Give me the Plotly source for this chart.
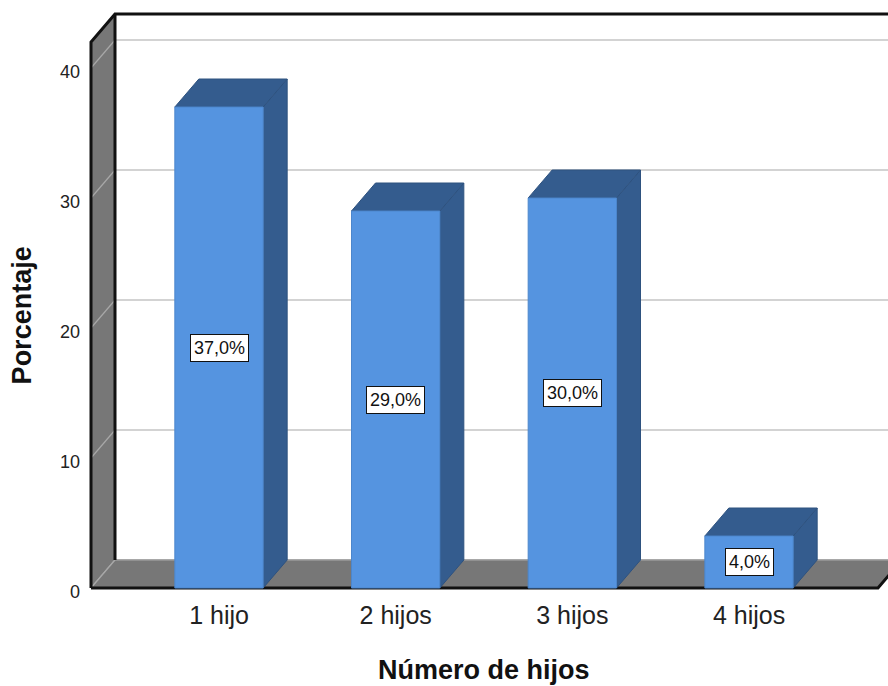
import plotly.graph_objects as go

# Data: percentage of respondents by number of children
categories = ["1 hijo", "2 hijos", "3 hijos", "4 hijos"]
percentages = [37.0, 29.0, 30.0, 4.0]
y_ticks = [0, 10, 20, 30, 40]

# Pseudo-3D geometry (in axis units)
BAR_W = 0.5          # bar front width in category units
DX = 0.1358          # depth offset along x
DY = 2.154           # depth offset along y
WALL_X = -0.7245     # front edge of the left wall
FLOOR_END = 3.73     # front-right end of the floor
Y_TOP = 42.0         # top of the walls (front)
X_RANGE = [-0.7415, 3.7867]
Y_RANGE = [-0.3077, 44.385]

FRONT = "#5594E0"
DARK = "#345C8E"
WALL = "#777777"
GRID_BACK = "#c4c4c4"
GRID_SIDE = "#a8a8a8"
FONT = "Arial, Liberation Sans, sans-serif"

fig = go.Figure()


def poly(xs, ys, fill, line_color=None, width=0):
    fig.add_trace(go.Scatter(
        x=xs + [xs[0]], y=ys + [ys[0]], mode="lines", fill="toself",
        fillcolor=fill, line=dict(color=line_color or fill, width=width),
        hoverinfo="skip", showlegend=False))


def line(xs, ys, color, width):
    fig.add_trace(go.Scatter(
        x=xs, y=ys, mode="lines", line=dict(color=color, width=width),
        hoverinfo="skip", showlegend=False))


# Left wall
poly([WALL_X, WALL_X, WALL_X + DX, WALL_X + DX],
     [0, Y_TOP, Y_TOP + DY, DY], WALL)

# Gridlines on back wall and left wall
for v in y_ticks:
    line([WALL_X + DX, X_RANGE[1] + 0.1], [v + DY, v + DY], GRID_BACK, 1.5)
    line([WALL_X, WALL_X + DX], [v, v + DY], GRID_SIDE, 1.2)

# Floor
poly([WALL_X, FLOOR_END, FLOOR_END + DX, WALL_X + DX],
     [0, 0, DY, DY], WALL)
line([WALL_X + DX, X_RANGE[1] + 0.2], [DY, DY], "#9a9a9a", 1.5)
line([WALL_X, WALL_X + DX], [0, DY], GRID_SIDE, 1.2)

# Frame edges
line([WALL_X, WALL_X, WALL_X + DX, X_RANGE[1] + 0.2],
     [0, Y_TOP, Y_TOP + DY, Y_TOP + DY], "#111111", 3)
line([WALL_X + DX, WALL_X + DX], [Y_TOP + DY, DY], "#111111", 3)
line([WALL_X, FLOOR_END, FLOOR_END + DX], [0, 0, DY], "#111111", 3)

# 3D bars
for i, v in enumerate(percentages):
    x0, x1 = i - BAR_W / 2, i + BAR_W / 2
    # side face
    poly([x1, x1, x1 + DX, x1 + DX], [0, v, v + DY, DY], DARK, "#2e527f", 1)
    # top face
    poly([x0, x1, x1 + DX, x0 + DX], [v, v, v + DY, v + DY], DARK, "#2e527f", 1)
    # front face
    poly([x0, x1, x1, x0], [0, 0, v, v], FRONT, "#4c86cc", 1)

# Value labels at half bar height
for i, v in enumerate(percentages):
    fig.add_annotation(
        x=i, y=v / 2, xref="x", yref="y",
        text=f"{v:.1f}%".replace(".", ","), showarrow=False,
        font=dict(family=FONT, size=18, color="#111111"),
        bgcolor="white", bordercolor="#111111", borderwidth=1, borderpad=3)

# Axis titles
fig.add_annotation(x=0.495, y=-0.134, xref="paper", yref="paper",
                   text="<b>Número de hijos</b>", showarrow=False,
                   xanchor="center", yanchor="middle",
                   font=dict(family=FONT, size=27, color="#111111"))
fig.add_annotation(x=-0.082, y=0.4768, xref="paper", yref="paper",
                   text="<b>Porcentaje</b>", showarrow=False, textangle=-90,
                   xanchor="center", yanchor="middle",
                   font=dict(family=FONT, size=27, color="#111111"))

fig.update_layout(
    width=888, height=686,
    margin=dict(l=88, r=0, t=11, b=94),
    plot_bgcolor="white", paper_bgcolor="white",
    xaxis=dict(range=X_RANGE, tickmode="array",
               tickvals=list(range(len(categories))), ticktext=categories,
               showgrid=False, zeroline=False, showline=False, ticks="",
               tickfont=dict(family=FONT, size=25, color="#222222"),
               ticklabelstandoff=6, fixedrange=True),
    yaxis=dict(range=Y_RANGE, tickmode="array", tickvals=y_ticks,
               ticktext=[str(t) for t in y_ticks],
               showgrid=False, zeroline=False, showline=False, ticks="",
               tickfont=dict(family=FONT, size=18, color="#222222"),
               ticklabelstandoff=7, ticklabelshift=4, fixedrange=True),
)

fig.write_html("out.html")
